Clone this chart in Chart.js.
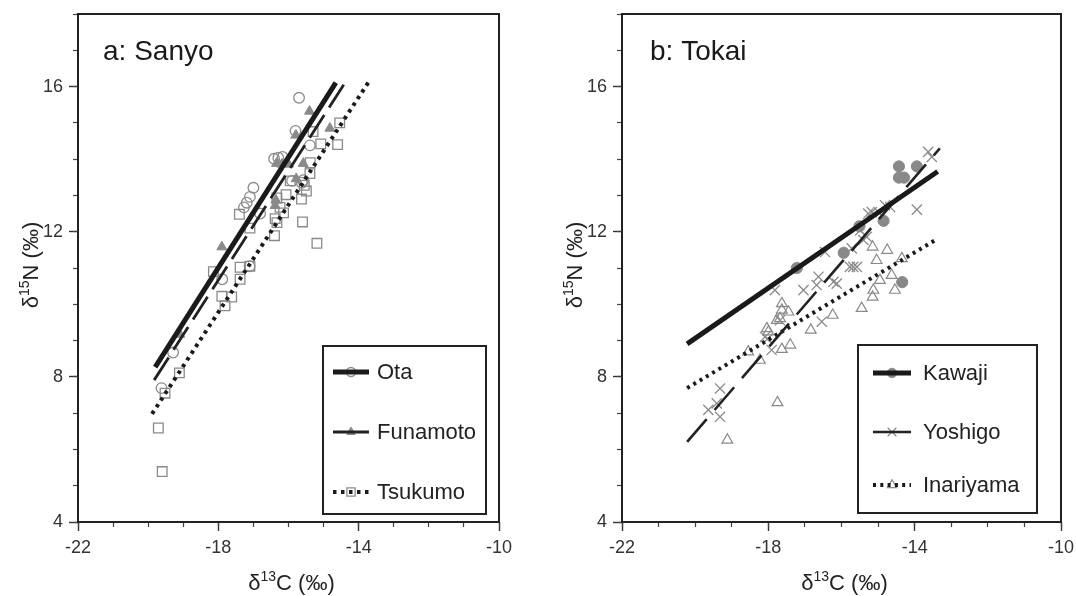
<!DOCTYPE html>
<html><head><meta charset="utf-8">
<script src="https://cdn.jsdelivr.net/npm/chart.js@4.4.0/dist/chart.umd.min.js"></script>
<style>
html,body{margin:0;padding:0;background:#fff;}
#wrap{position:relative;width:1076px;height:596px;overflow:hidden;}
canvas{position:absolute;top:0;}
</style></head><body>
<div id="wrap">
<canvas id="cA" width="540" height="596" style="left:0"></canvas>
<canvas id="cB" width="536" height="596" style="left:540px"></canvas>
</div>
<script>
// ---------- data ----------
const xMajorTicks = [-22, -18, -14, -10];
const yMajorTicks = [4, 8, 12, 16];
const panelTitles = ['a: Sanyo', 'b: Tokai'];
const sanyoNames = ['Ota', 'Funamoto', 'Tsukumo'];
const tokaiNames = ['Kawaji', 'Yoshigo', 'Inariyama'];

// Sanyo points [d13C, d15N]
const ota = [[-15.70,15.69],[-15.80,14.78],[-15.39,14.38],[-16.41,14.01],[-16.29,14.04],[-16.17,14.06],
  [-15.58,13.42],[-15.90,13.40],[-15.62,13.35],[-17.00,13.21],[-17.10,12.96],[-17.19,12.80],[-17.27,12.67],
  [-16.81,12.50],[-17.11,11.05],[-17.89,10.69],[-19.29,8.67],[-19.62,7.69]];
const funamoto = [[-15.40,15.32],[-15.79,14.66],[-14.82,14.85],[-16.34,13.88],[-16.19,13.86],[-16.00,13.86],
  [-15.58,13.88],[-15.78,13.46],[-16.36,12.87],[-16.38,12.72],[-17.90,11.58],[-19.10,9.17]];
const tsukumo = [[-14.54,15.00],[-14.60,14.40],[-15.08,14.42],[-15.30,14.76],[-15.38,13.90],[-15.39,13.60],
  [-15.55,13.28],[-15.49,13.12],[-15.63,12.90],[-15.95,13.40],[-16.07,13.02],[-16.33,12.93],[-16.24,12.67],
  [-16.14,12.52],[-16.38,12.36],[-16.33,12.25],[-15.60,12.27],[-15.19,11.68],[-16.40,11.89],[-17.40,12.48],
  [-17.10,12.10],[-18.14,10.90],[-17.38,11.02],[-17.38,10.69],[-17.10,11.05],[-17.90,10.22],[-17.62,10.20],
  [-17.81,9.96],[-19.11,8.11],[-19.71,6.59],[-19.60,5.39],[-19.52,7.55]];
// Sanyo regression line end points
const otaFit = [[-19.80,8.27],[-14.65,16.11]];
const funamotoFit = [[-19.83,7.91],[-14.36,16.15]];
const tsukumoFit = [[-19.89,6.98],[-13.70,16.15]];

// Tokai points
const kawaji = [[-14.43,13.80],[-13.94,13.80],[-14.43,13.49],[-14.29,13.49],[-14.85,12.30],[-15.51,12.15],
  [-15.94,11.42],[-17.22,11.00],[-14.34,10.61]];
const yoshigo = [[-13.63,14.20],[-13.53,14.06],[-13.94,12.61],[-14.81,12.73],[-14.67,12.68],[-14.99,12.54],
  [-15.17,12.54],[-15.27,12.50],[-15.49,12.04],[-15.31,11.86],[-15.40,11.77],[-15.72,11.54],[-15.77,11.03],
  [-15.68,11.03],[-15.58,11.03],[-16.45,11.44],[-16.63,10.76],[-16.68,10.53],[-16.22,10.62],[-16.13,10.57],
  [-17.04,10.39],[-17.82,10.39],[-16.54,9.52],[-17.91,8.74],[-18.09,9.10],[-18.02,9.05],[-17.68,9.56],
  [-19.32,7.68],[-19.64,7.09],[-19.41,7.27],[-19.32,6.90]];
const inariyama = [[-15.15,11.58],[-14.75,11.49],[-14.35,11.26],[-15.04,11.21],[-14.63,10.80],[-14.95,10.66],
  [-15.13,10.39],[-15.15,10.20],[-14.54,10.39],[-15.45,9.89],[-16.24,9.70],[-16.84,9.29],[-17.40,8.88],
  [-17.63,8.76],[-18.00,9.24],[-18.04,9.33],[-17.77,9.56],[-17.63,10.02],[-17.63,9.84],[-17.45,9.79],
  [-17.68,9.61],[-18.23,8.46],[-18.55,8.69],[-17.75,7.29],[-19.12,6.26]];
const kawajiFit = [[-20.22,8.91],[-13.37,13.66]];
const yoshigoFit = [[-20.22,6.21],[-13.31,14.30]];
const inariyamaFit = [[-20.22,7.69],[-13.37,11.81]];

// ---------- helpers ----------
const FONT = '"Liberation Sans", Arial, Helvetica, sans-serif';
Chart.defaults.font.family = FONT;
const toXY = arr => arr.map(p => ({x: p[0], y: p[1]}));
const GREY = '#8a8a8a';
const INK = '#1a1a1a';

function lineDs(label, pts, width, dash, color) {
  return {label, data: toXY(pts), showLine: true, pointRadius: 0, pointHoverRadius: 0,
    borderColor: color || INK, borderWidth: width, borderDash: dash, fill: false, order: 0, tension: 0};
}
function pointDs(label, pts, style, radius, fillCol, bw) {
  return {label, data: toXY(pts), showLine: false, pointStyle: style, pointRadius: radius,
    pointHoverRadius: radius, borderColor: GREY, backgroundColor: fillCol, borderWidth: bw,
    pointBorderWidth: bw, order: 1};
}

function drawSupText(ctx, parts, cx, cy, rotate) {
  ctx.save();
  ctx.translate(cx, cy);
  if (rotate) ctx.rotate(-Math.PI / 2);
  let w = 0;
  parts.forEach(p => { ctx.font = (p.sup ? '14px ' : '22px ') + FONT; w += ctx.measureText(p.t).width; });
  let x = -w / 2;
  ctx.textBaseline = 'alphabetic'; ctx.textAlign = 'left'; ctx.fillStyle = '#222';
  parts.forEach(p => {
    ctx.font = (p.sup ? '14px ' : '22px ') + FONT;
    ctx.fillText(p.t, x, p.sup ? -9 : 0);
    x += ctx.measureText(p.t).width;
  });
  ctx.restore();
}

const panelPlugin = {
  id: 'panel',
  afterDraw(chart, args, o) {
    const ctx = chart.ctx, a = chart.chartArea;
    ctx.save();
    ctx.strokeStyle = '#222'; ctx.lineWidth = 2;
    ctx.strokeRect(a.left, a.top, a.right - a.left, a.bottom - a.top);
    ctx.fillStyle = '#1a1a1a'; ctx.font = '28px ' + FONT;
    ctx.textAlign = 'left'; ctx.textBaseline = 'alphabetic';
    ctx.fillText(o.title, a.left + o.titleDx, 60);
    drawSupText(ctx, [{t:'δ'},{t:'13',sup:true},{t:'C (‰)'}], (a.left + a.right) / 2 + 3, 590, false);
    drawSupText(ctx, [{t:'δ'},{t:'15',sup:true},{t:'N (‰)'}], a.left - o.yTitleDx, 265, true);
    // legend
    const L = o.legend;
    ctx.lineWidth = 2; ctx.strokeStyle = '#222';
    ctx.strokeRect(L.x, L.y, L.w, L.h);
    L.items.forEach((it, i) => {
      const ld = chart.data.datasets[it.line], pd = chart.data.datasets[it.point];
      const yy = L.rows[i], mx = (L.sx0 + L.sx1) / 2;
      ctx.save();
      ctx.fillStyle = pd.backgroundColor; ctx.strokeStyle = pd.borderColor; ctx.lineWidth = pd.borderWidth;
      Chart.helpers.drawPoint(ctx, {pointStyle: pd.pointStyle, radius: pd.pointRadius * 0.85,
        borderWidth: pd.borderWidth, rotation: 0}, mx, yy);
      ctx.restore();
      ctx.save();
      ctx.strokeStyle = ld.borderColor; ctx.lineWidth = it.width || ld.borderWidth;
      ctx.setLineDash(it.dash ? it.dash : (ld.borderDash || []));
      ctx.beginPath(); ctx.moveTo(L.sx0, yy); ctx.lineTo(L.sx1, yy); ctx.stroke();
      ctx.restore();
      ctx.fillStyle = '#222'; ctx.font = '22px ' + FONT; ctx.textBaseline = 'middle'; ctx.textAlign = 'left';
      ctx.fillText(ld.label, L.tx, yy + 1);
    });
    ctx.restore();
  }
};

function axes(yAxisWidth) {
  const major = (v, arr) => arr.indexOf(v) >= 0;
  return {
    x: {type: 'linear', position: 'bottom', min: -22, max: -10, weight: 1,
      border: {display: false},
      grid: {drawOnChartArea: false, drawTicks: true, tickLength: 9, tickWidth: 1.4,
        tickColor: c => major(c.tick.value, xMajorTicks) ? '#333' : 'rgba(0,0,0,0)'},
      ticks: {stepSize: 4, autoSkip: false, maxRotation: 0, padding: 6, color: '#333',
        font: {size: 18}, callback: v => major(v, xMajorTicks) ? String(v) : ''},
      afterFit: s => { s.height = 74; s.paddingLeft = 0; s.paddingRight = 0; }},
    xMinor: {type: 'linear', position: 'bottom', min: -22, max: -10, weight: 0,
      border: {display: false},
      grid: {drawOnChartArea: false, drawTicks: true, tickLength: 5, tickWidth: 1.2, tickColor: '#444'},
      ticks: {stepSize: 1, autoSkip: false, display: false},
      afterFit: s => { s.height = 0; s.paddingLeft = 0; s.paddingRight = 0; }},
    y: {type: 'linear', position: 'left', min: 4, max: 18, weight: 1,
      border: {display: false},
      grid: {drawOnChartArea: false, drawTicks: true, tickLength: 9, tickWidth: 1.4,
        tickColor: c => major(c.tick.value, yMajorTicks) ? '#333' : 'rgba(0,0,0,0)'},
      ticks: {stepSize: 4, autoSkip: false, padding: 6, color: '#333',
        font: {size: 18}, callback: v => major(v, yMajorTicks) ? String(v) : ''},
      afterFit: s => { s.width = yAxisWidth; s.paddingTop = 0; s.paddingBottom = 0; }},
    yMinor: {type: 'linear', position: 'left', min: 4, max: 18, weight: 0,
      border: {display: false},
      grid: {drawOnChartArea: false, drawTicks: true, tickLength: 5, tickWidth: 1.2, tickColor: '#444'},
      ticks: {stepSize: 1, autoSkip: false, display: false},
      afterFit: s => { s.width = 0; s.paddingTop = 0; s.paddingBottom = 0; }}
  };
}

function makeChart(id, datasets, cfg) {
  return new Chart(document.getElementById(id), {
    type: 'scatter',
    data: {datasets},
    options: {
      responsive: false, animation: false, events: [],
      layout: {padding: {left: 0, top: 14, right: cfg.padRight, bottom: 0}},
      scales: axes(cfg.yAxisWidth),
      plugins: {legend: {display: false}, tooltip: {enabled: false},
        panel: {title: cfg.title, titleDx: cfg.titleDx, yTitleDx: cfg.yTitleDx, legend: cfg.legend}}
    },
    plugins: [panelPlugin]
  });
}

// ---------- panel a ----------
makeChart('cA', [
  lineDs(sanyoNames[0], otaFit, 5, []),
  lineDs(sanyoNames[1], funamotoFit, 2.8, [27, 9], '#222'),
  lineDs(sanyoNames[2], tsukumoFit, 4, [3.5, 4.5]),
  pointDs(sanyoNames[0], ota, 'circle', 5.3, 'rgba(0,0,0,0)', 1.3),
  pointDs(sanyoNames[1], funamoto, 'triangle', 5.8, '#8a8a8a', 1),
  pointDs(sanyoNames[2], tsukumo, 'rect', 6.8, 'rgba(0,0,0,0)', 1.3)
], {padRight: 41, yAxisWidth: 78, title: panelTitles[0], titleDx: 25, yTitleDx: 40,
  legend: {x: 323, y: 346, w: 163, h: 168, sx0: 333, sx1: 369, tx: 377, rows: [372, 432, 492],
    items: [{line: 0, point: 3}, {line: 1, point: 4, dash: [], width: 3}, {line: 2, point: 5}]}});

// ---------- panel b ----------
makeChart('cB', [
  lineDs(tokaiNames[0], kawajiFit, 5, []),
  lineDs(tokaiNames[1], yoshigoFit, 2.6, [30, 12], '#222'),
  lineDs(tokaiNames[2], inariyamaFit, 4, [3, 4.3]),
  pointDs(tokaiNames[0], kawaji, 'circle', 5.6, '#888888', 1),
  pointDs(tokaiNames[1], yoshigo, 'crossRot', 7.2, 'rgba(0,0,0,0)', 1.3),
  pointDs(tokaiNames[2], inariyama, 'triangle', 6.2, 'rgba(0,0,0,0)', 1.2)
], {padRight: 15, yAxisWidth: 82, title: panelTitles[1], titleDx: 28, yTitleDx: 40,
  legend: {x: 318, y: 345, w: 179, h: 168, sx0: 333, sx1: 371, tx: 383, rows: [373, 432, 485],
    items: [{line: 0, point: 3}, {line: 1, point: 4, dash: [], width: 2.6}, {line: 2, point: 5}]}});
</script>
</body></html>
